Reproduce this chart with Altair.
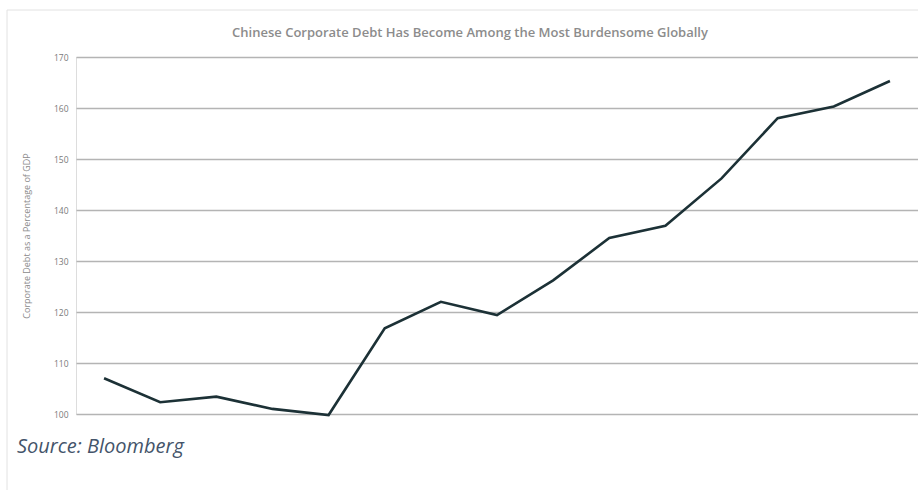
import altair as alt
import pandas as pd

periods = [str(i) for i in range(1, 16)]
debt_pct_gdp = [107.0, 102.3, 103.4, 101.0, 99.8, 116.8, 122.0, 119.4, 126.2,
                134.5, 136.9, 146.2, 158.0, 160.3, 165.3]
y_ticks = [100, 110, 120, 130, 140, 150, 160, 170]

title_text = "Chinese Corporate Debt Has Become Among the Most Burdensome Globally"
y_title = "Corporate Debt as a Percentage of GDP"
source_text = "Source: Bloomberg"

df = pd.DataFrame({"period": periods, "value": debt_pct_gdp})

W, H = 842, 357

line = alt.Chart(df).mark_line(color="#1c3136", strokeWidth=2.6, strokeJoin="miter").encode(
    x=alt.X("period:O", sort=periods, axis=None,
            scale=alt.Scale(type="point", padding=0.5)),
    y=alt.Y("value:Q", scale=alt.Scale(domain=[100, 170], nice=False, zero=False),
            axis=alt.Axis(values=y_ticks, title=y_title, domain=False, ticks=False,
                          labelFontSize=8.5, labelColor="#7a7a7a", labelFont="Open Sans",
                          labelPadding=8, titleFontSize=9, titleColor="#8a8a8a",
                          titleFont="Open Sans", titleFontWeight="normal", titlePadding=22,
                          gridColor="#b4b4b4", gridWidth=1.5)),
)

frame_top = alt.Chart().mark_rule(color="#e2e2e2", strokeWidth=1).encode(
    x=alt.value(-69), x2=alt.value(W + 10), y=alt.value(-47))
frame_left = alt.Chart().mark_rule(color="#e2e2e2", strokeWidth=1).encode(
    x=alt.value(-69), y=alt.value(-47), y2=alt.value(H + 80))

title = alt.Chart(pd.DataFrame({"t": [title_text]})).mark_text(
    align="center", baseline="alphabetic", fontSize=13, fontWeight=600,
    font="Open Sans", color="#8c8c8c").encode(
    text="t:N", x=alt.value(394), y=alt.value(-20))

source = alt.Chart(pd.DataFrame({"t": [source_text]})).mark_text(
    align="left", baseline="alphabetic", fontSize=20, fontStyle="italic",
    font="Open Sans", color="#44546a").encode(
    text="t:N", x=alt.value(-59), y=alt.value(H + 39))

chart = alt.layer(frame_top, frame_left, line, title, source).properties(
    width=W, height=H,
    autosize=alt.AutoSizeParams(type="none"),
    padding={"left": 76, "top": 57, "right": 0, "bottom": 76},
).configure_view(stroke=None).configure(background="white")

chart.save("out.html", embed_options={"renderer": "svg", "actions": False})
